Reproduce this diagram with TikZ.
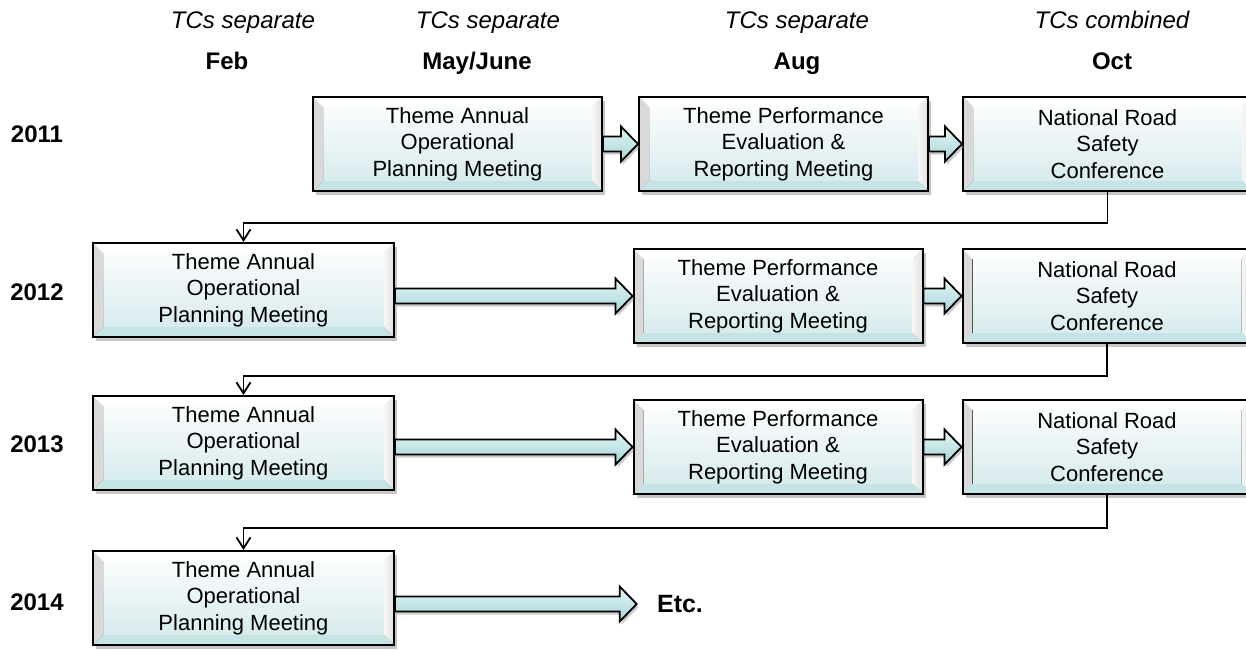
\documentclass[tikz,border=0pt]{standalone}
\usepackage{fontspec}
\setmainfont{Liberation Sans}
\usetikzlibrary{shadows,arrows.meta,calc}

\definecolor{faceBot}{HTML}{D3E9EB}
\definecolor{bevelBot}{HTML}{C6E3E5}
\definecolor{arrLight}{HTML}{E6F5F6}
\definecolor{arrDark}{HTML}{A3D5D8}

\tikzset{
  % bevelled meeting box
  stage/.style={
    draw=black, line width=1pt, minimum width=144.5pt, minimum height=47pt,
    align=center, inner sep=0pt,
    font=\fontsize{11}{13.3}\selectfont,
    top color=white, bottom color=faceBot,
    drop shadow={shadow xshift=1.5pt, shadow yshift=-2pt, opacity=.45},
    path picture={
      \fill[left color=black!15, right color=black!3]
        (path picture bounding box.south west) -- (path picture bounding box.north west)
        -- ([shift={(5pt,-5pt)}]path picture bounding box.north west)
        -- ([shift={(5pt,5pt)}]path picture bounding box.south west) -- cycle;
      \fill[left color=black!3, right color=black!12]
        (path picture bounding box.south east) -- (path picture bounding box.north east)
        -- ([shift={(-5pt,-5pt)}]path picture bounding box.north east)
        -- ([shift={(-5pt,5pt)}]path picture bounding box.south east) -- cycle;
      \fill[white]
        (path picture bounding box.north west) -- (path picture bounding box.north east)
        -- ([shift={(-5pt,-5pt)}]path picture bounding box.north east)
        -- ([shift={(5pt,-5pt)}]path picture bounding box.north west) -- cycle;
      \fill[bevelBot]
        (path picture bounding box.south west) -- (path picture bounding box.south east)
        -- ([shift={(-5pt,5pt)}]path picture bounding box.south east)
        -- ([shift={(5pt,5pt)}]path picture bounding box.south west) -- cycle;
    }},
  wide/.style={minimum width=150.5pt},
  phase/.style={anchor=base, font=\fontsize{12}{14}\selectfont\itshape},
  month/.style={anchor=base, font=\fontsize{12}{14}\selectfont\bfseries},
  year/.style={anchor=base, font=\fontsize{12}{14}\selectfont\bfseries},
  tail/.style={font=\fontsize{12.5}{14}\selectfont\bfseries},
  fatarr/.style={draw=black, line width=0.9pt, line join=miter,
    top color=arrLight, bottom color=arrDark,
    drop shadow={shadow xshift=1pt, shadow yshift=-1.5pt, opacity=.4}},
  link/.style={draw=black, line width=0.9pt,
    -{Straight Barb[length=5.5pt,width=7pt,line width=0.9pt]}},
}

% block arrow from the east side of #1 to the west side of #2
\newcommand\fatarrow[2]{%
  \path[fatarr] let \p1=(#1.east), \p2=(#2.west) in
    (\x1,\y2+3.75pt) -- (\x2-8.5pt,\y2+3.75pt) -- (\x2-8.5pt,\y2+8.75pt)
    -- (\x2,\y2) -- (\x2-8.5pt,\y2-8.75pt) -- (\x2-8.5pt,\y2-3.75pt)
    -- (\x1,\y2-3.75pt) -- cycle;}

\begin{document}
\begin{tikzpicture}[x=0.5pt, y=-0.5pt]
\useasboundingbox (0,0) rectangle (1246,649);
\clip (0,0) rectangle (1246,649);

% column headings
\node[phase] (h1) at (243,28) {TCs separate};
\node[month] (m1) at (227,69) {Feb};
\node[phase] (h2) at (488,28) {TCs separate};
\node[month] (m2) at (477,69) {May/June};
\node[phase] (h3) at (797,28) {TCs separate};
\node[month] (m3) at (797,69) {Aug};
\node[phase] (h4) at (1112,28) {TCs combined};
\node[month] (m4) at (1112,69) {Oct};

% row labels
\node[year] (y1) at (37,142) {2011};
\node[year] (y2) at (37,300) {2012};
\node[year] (y3) at (37,452) {2013};
\node[year] (y4) at (37,610) {2014};

% 2011
\node[stage] (p1) at (457.5,144) {Theme Annual\\Operational\\Planning Meeting};
\node[stage] (e1) at (783.5,144) {Theme Performance\\Evaluation \&\\Reporting Meeting};
\node[stage] (c1) at (1107.5,144) {National Road\\Safety\\Conference};

% 2012
\node[stage,wide] (p2) at (243.5,290) {Theme Annual\\Operational\\Planning Meeting};
\node[stage] (e2) at (778,296) {Theme Performance\\Evaluation \&\\Reporting Meeting};
\node[stage] (c2) at (1107,296) {National Road\\Safety\\Conference};

% 2013
\node[stage,wide] (p3) at (243.5,443) {Theme Annual\\Operational\\Planning Meeting};
\node[stage] (e3) at (778,447) {Theme Performance\\Evaluation \&\\Reporting Meeting};
\node[stage] (c3) at (1107,447) {National Road\\Safety\\Conference};

% 2014
\node[stage,wide] (p4) at (243.5,598) {Theme Annual\\Operational\\Planning Meeting};
\node[tail, inner xsep=10pt, inner ysep=2pt] (etc) at (680,604) {Etc.};

% flow within each year
\fatarrow{p1}{e1}
\fatarrow{e1}{c1}
\fatarrow{p2}{e2}
\fatarrow{e2}{c2}
\fatarrow{p3}{e3}
\fatarrow{e3}{c3}
\fatarrow{p4}{etc}

% hand-over to the next year
\draw[link] (c1.south) -- ++(0,31) -| (p2.north);
\draw[link] (c2.south) -- ++(0,32) -| (p3.north);
\draw[link] (c3.south) -- ++(0,33) -| (p4.north);
\end{tikzpicture}
\end{document}
